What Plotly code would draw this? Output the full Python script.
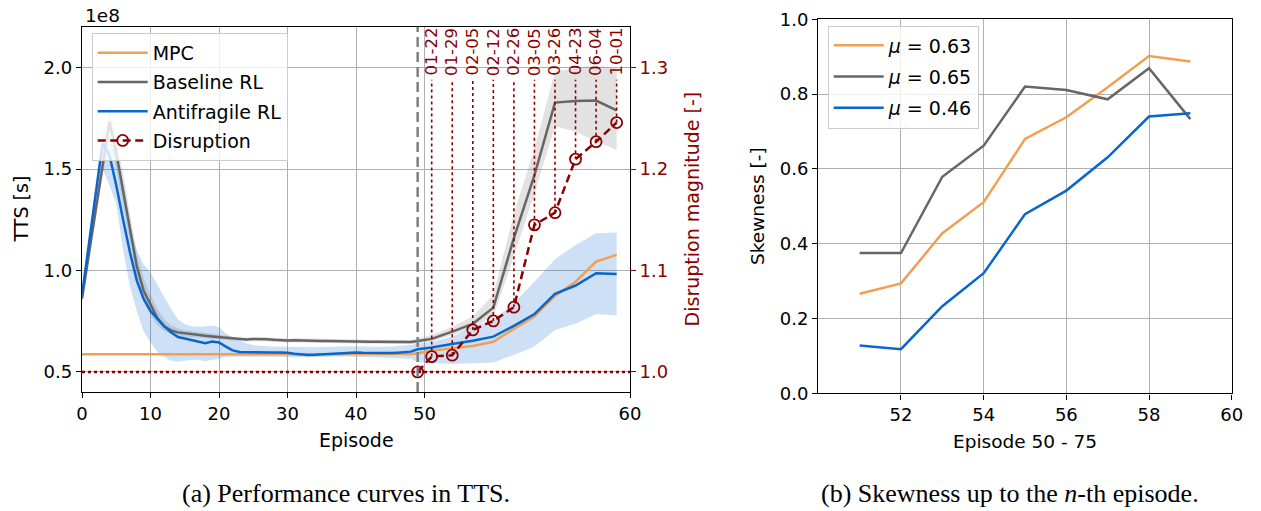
import plotly.graph_objects as go

# ---------------- data: left panel (TTS in units of 1e8 s) ----------------
episodes = [0, 1, 2, 3, 4, 5, 6, 7, 8, 9, 10, 11, 12, 13, 14, 15, 16, 17, 18, 19,
            20, 21, 22, 23, 24, 25, 26, 27, 28, 29, 30, 31, 32, 33, 34, 35, 36, 37, 38, 39,
            40, 41, 42, 43, 44, 45, 46, 47, 48, 49,
            50.35, 51.35, 52.35, 53.35, 54.35, 55.35, 56.35, 57.35, 58.35, 59.35]

mpc = [0.587, 0.587, 0.587, 0.587, 0.587, 0.587, 0.587, 0.587, 0.587, 0.587,
       0.587, 0.587, 0.587, 0.587, 0.587, 0.587, 0.587, 0.587, 0.587, 0.587,
       0.587, 0.587, 0.587, 0.587, 0.587, 0.587, 0.587, 0.587, 0.587, 0.587,
       0.587, 0.587, 0.587, 0.587, 0.587, 0.587, 0.587, 0.587, 0.587, 0.587,
       0.587, 0.587, 0.587, 0.587, 0.587, 0.587, 0.587, 0.587, 0.588, 0.592,
       0.604, 0.617, 0.628, 0.649, 0.712, 0.775, 0.875, 0.945, 1.044, 1.077]

baseline = [0.86, 1.08, 1.30, 1.51, 1.734, 1.58, 1.40, 1.20, 1.02, 0.90,
            0.83, 0.765, 0.725, 0.705, 0.695, 0.690, 0.686, 0.682, 0.678, 0.675,
            0.672, 0.668, 0.664, 0.660, 0.660, 0.662, 0.663, 0.661, 0.658, 0.655,
            0.655, 0.656, 0.656, 0.655, 0.654, 0.653, 0.652, 0.651, 0.650, 0.650,
            0.650, 0.650, 0.649, 0.649, 0.648, 0.648, 0.647, 0.647, 0.647, 0.652,
            0.663, 0.699, 0.737, 0.817, 1.16, 1.47, 1.828, 1.836, 1.838, 1.789]
baseline_lo = [0.85, 1.05, 1.26, 1.46, 1.66, 1.50, 1.32, 1.12, 0.96, 0.85,
               0.78, 0.73, 0.70, 0.685, 0.678, 0.675, 0.672, 0.668, 0.665, 0.662,
               0.660, 0.658, 0.654, 0.650, 0.650, 0.652, 0.653, 0.651, 0.648, 0.645,
               0.645, 0.646, 0.646, 0.645, 0.644, 0.643, 0.642, 0.641, 0.640, 0.640,
               0.640, 0.640, 0.639, 0.639, 0.638, 0.638, 0.637, 0.637, 0.637, 0.640,
               0.650, 0.682, 0.715, 0.773, 1.07, 1.38, 1.71, 1.685, 1.636, 1.595]
baseline_hi = [0.88, 1.11, 1.35, 1.57, 1.80, 1.65, 1.48, 1.28, 1.09, 0.96,
               0.88, 0.81, 0.76, 0.73, 0.715, 0.705, 0.700, 0.697, 0.692, 0.688,
               0.684, 0.678, 0.674, 0.670, 0.670, 0.672, 0.673, 0.671, 0.668, 0.665,
               0.665, 0.666, 0.666, 0.665, 0.664, 0.663, 0.662, 0.661, 0.660, 0.660,
               0.660, 0.660, 0.659, 0.659, 0.658, 0.658, 0.657, 0.657, 0.657, 0.665,
               0.682, 0.723, 0.773, 0.880, 1.28, 1.60, 1.98, 2.00, 2.01, 1.997]

antifragile = [0.88, 1.13, 1.38, 1.627, 1.57, 1.42, 1.25, 1.09, 0.95, 0.86,
               0.80, 0.76, 0.725, 0.695, 0.672, 0.665, 0.658, 0.650, 0.641, 0.650,
               0.645, 0.625, 0.606, 0.598, 0.597, 0.597, 0.597, 0.596, 0.596, 0.596,
               0.595, 0.590, 0.586, 0.584, 0.585, 0.587, 0.589, 0.592, 0.595, 0.596,
               0.596, 0.594, 0.593, 0.592, 0.592, 0.593, 0.595, 0.598, 0.600, 0.612,
               0.620, 0.638, 0.654, 0.674, 0.727, 0.785, 0.885, 0.926, 0.987, 0.983]
antifragile_lo = [0.86, 1.09, 1.31, 1.50, 1.42, 1.33, 1.10, 0.92, 0.80, 0.70,
                  0.645, 0.60, 0.575, 0.555, 0.550, 0.555, 0.560, 0.560, 0.552, 0.560,
                  0.565, 0.575, 0.575, 0.575, 0.578, 0.577, 0.576, 0.575, 0.575, 0.574,
                  0.573, 0.572, 0.572, 0.572, 0.573, 0.574, 0.575, 0.576, 0.576, 0.576,
                  0.575, 0.574, 0.573, 0.572, 0.571, 0.570, 0.569, 0.567, 0.565, 0.548,
                  0.545, 0.539, 0.543, 0.546, 0.584, 0.625, 0.707, 0.737, 0.785, 0.778]
antifragile_hi = [0.90, 1.16, 1.43, 1.68, 1.66, 1.56, 1.42, 1.22, 1.10, 1.03,
                  0.99, 0.93, 0.87, 0.81, 0.76, 0.735, 0.725, 0.723, 0.725, 0.728,
                  0.720, 0.690, 0.670, 0.655, 0.640, 0.632, 0.628, 0.626, 0.625, 0.624,
                  0.623, 0.622, 0.621, 0.621, 0.622, 0.623, 0.624, 0.625, 0.626, 0.626,
                  0.626, 0.625, 0.624, 0.624, 0.624, 0.625, 0.627, 0.630, 0.633, 0.640,
                  0.648, 0.674, 0.723, 0.756, 0.840, 0.945, 1.056, 1.126, 1.184, 1.187]

disruption_ep = [49, 50.35, 51.35, 52.35, 53.35, 54.35, 55.35, 56.35, 57.35, 58.35, 59.35]
disruption_mag = [1.0, 1.0151, 1.0165, 1.0414, 1.0503, 1.0638, 1.145, 1.157, 1.2098, 1.227, 1.2459]
disruption_dates = ["01-22", "01-29", "02-05", "02-12", "02-26",
                    "03-05", "03-26", "04-23", "06-04", "10-01"]
disruption_start = 49

x_ticks_a = [0, 10, 20, 30, 40, 50, 60]
y_ticks_a = [0.5, 1.0, 1.5, 2.0]
y2_ticks_a = [1.0, 1.1, 1.2, 1.3]

# ---------------- data: right panel (skewness) ----------------
skew_ep = [51, 52, 53, 54, 55, 56, 57, 58, 59]
skew_mpc = [0.266, 0.294, 0.428, 0.511, 0.680, 0.738, 0.818, 0.902, 0.887]
skew_base = [0.375, 0.375, 0.579, 0.662, 0.820, 0.811, 0.786, 0.869, 0.733]
skew_anti = [0.128, 0.118, 0.233, 0.321, 0.479, 0.542, 0.631, 0.740, 0.749]
skew_labels = ["<i>μ</i> = 0.63", "<i>μ</i> = 0.65", "<i>μ</i> = 0.46"]
x_ticks_b = [52, 54, 56, 58, 60]
y_ticks_b = [0.0, 0.2, 0.4, 0.6, 0.8, 1.0]

# ---------------- styling ----------------
C_MPC = "#F0A050"
C_BASE = "#666666"
C_ANTI = "#0A66CC"
C_DIS = "#8B0000"
FONT = "DejaVu Sans"
W, H = 1261, 511


def to_axis(x):
    # broken episode scale: episodes after 50 are stretched 3x
    return x if x <= 50 else 50 + 3.0 * (x - 50)


def px_x(p):
    return p / W


def px_y(p):
    return 1 - p / H


ux = [to_axis(e) for e in episodes]
fig = go.Figure()

# bands
fig.add_trace(go.Scatter(x=ux, y=baseline_lo, mode="lines", line=dict(width=0),
                         showlegend=False, hoverinfo="skip", xaxis="x", yaxis="y"))
fig.add_trace(go.Scatter(x=ux, y=baseline_hi, mode="lines", line=dict(width=0),
                         fill="tonexty", fillcolor="rgba(110,110,110,0.2)",
                         showlegend=False, hoverinfo="skip", xaxis="x", yaxis="y"))
fig.add_trace(go.Scatter(x=ux, y=antifragile_lo, mode="lines", line=dict(width=0),
                         showlegend=False, hoverinfo="skip", xaxis="x", yaxis="y"))
fig.add_trace(go.Scatter(x=ux, y=antifragile_hi, mode="lines", line=dict(width=0),
                         fill="tonexty", fillcolor="rgba(10,102,204,0.2)",
                         showlegend=False, hoverinfo="skip", xaxis="x", yaxis="y"))

# lines
fig.add_trace(go.Scatter(x=ux, y=mpc, mode="lines", name="MPC", legendgroup="a",
                         line=dict(color=C_MPC, width=2.5), xaxis="x", yaxis="y", legend="legend"))
fig.add_trace(go.Scatter(x=ux, y=baseline, mode="lines", name="Baseline RL", legendgroup="b",
                         line=dict(color=C_BASE, width=2.5), xaxis="x", yaxis="y", legend="legend"))
fig.add_trace(go.Scatter(x=ux, y=antifragile, mode="lines", name="Antifragile RL", legendgroup="c",
                         line=dict(color=C_ANTI, width=2.5), xaxis="x", yaxis="y", legend="legend"))

# vertical dotted lines from disruption markers to the date labels
vx, vy = [], []
for e, m in zip(disruption_ep[1:], disruption_mag[1:]):
    vx += [to_axis(e), to_axis(e), None]
    vy += [m, 1.288, None]
fig.add_trace(go.Scatter(x=vx, y=vy, mode="lines", line=dict(color=C_DIS, width=1.6, dash="dot"),
                         showlegend=False, hoverinfo="skip", xaxis="x", yaxis="y2"))

fig.add_trace(go.Scatter(x=[to_axis(e) for e in disruption_ep], y=disruption_mag,
                         mode="lines+markers", name="Disruption", legendgroup="d",
                         line=dict(color=C_DIS, width=2.5, dash="8px,4.5px"),
                         marker=dict(symbol="circle-open", size=11, color=C_DIS, line=dict(width=1.8)),
                         xaxis="x", yaxis="y2", legend="legend"))

# right panel
for vals, col, lab, grp in [(skew_mpc, C_MPC, skew_labels[0], "e"),
                            (skew_base, C_BASE, skew_labels[1], "f"),
                            (skew_anti, C_ANTI, skew_labels[2], "g")]:
    fig.add_trace(go.Scatter(x=skew_ep, y=vals, mode="lines", name=lab, legendgroup=grp,
                             line=dict(color=col, width=2.5), xaxis="x2", yaxis="y3", legend="legend2"))

axis_common = dict(showline=True, linecolor="black", linewidth=1.4, mirror=True,
                   ticks="outside", ticklen=5, tickwidth=1.3, tickcolor="black",
                   showgrid=True, gridcolor="#b0b0b0", gridwidth=1, zeroline=False,
                   automargin=False,
                   tickfont=dict(family=FONT, size=18, color="black"))

fig.update_layout(
    template="none",
    width=W, height=H, margin=dict(l=0, r=0, t=0, b=0, autoexpand=False),
    paper_bgcolor="white", plot_bgcolor="white",
    font=dict(family=FONT, size=18, color="black"),
    xaxis=dict(domain=[px_x(82), px_x(630)], range=[0, 80], anchor="y",
               tickvals=[to_axis(t) for t in x_ticks_a], ticktext=[str(t) for t in x_ticks_a],
               **axis_common),
    yaxis=dict(domain=[px_y(392), px_y(26.7)], range=[0.401, 2.202], anchor="x",
               tickvals=y_ticks_a, ticktext=["%.1f" % t for t in y_ticks_a], **axis_common),
    yaxis2=dict(overlaying="y", side="right", anchor="x", range=[0.9802, 1.3404],
                tickvals=y2_ticks_a, ticktext=["%.1f" % t for t in y2_ticks_a],
                showgrid=False, zeroline=False, showline=False, automargin=False,
                ticks="outside", ticklen=5, tickwidth=1.3, tickcolor=C_DIS,
                tickfont=dict(family=FONT, size=18, color=C_DIS)),
    xaxis2=dict(domain=[px_x(818.3), px_x(1231.7)], range=[50, 60], anchor="y3",
                tickvals=x_ticks_b, ticktext=[str(t) for t in x_ticks_b], **axis_common),
    yaxis3=dict(domain=[px_y(393.3), px_y(19.3)], range=[0, 1], anchor="x2",
                tickvals=y_ticks_b, ticktext=["%.1f" % t for t in y_ticks_b], **axis_common),
    legend=dict(x=px_x(91.7), y=px_y(33), xanchor="left", yanchor="top",
                bgcolor="rgba(255,255,255,0.8)", bordercolor="#cccccc", borderwidth=1,
                font=dict(family=FONT, size=19, color="black"),
                traceorder="grouped", tracegroupgap=1.5, itemwidth=50),
    legend2=dict(x=px_x(827.7), y=px_y(25.5), xanchor="left", yanchor="top",
                 bgcolor="rgba(255,255,255,0.8)", bordercolor="#cccccc", borderwidth=1,
                 font=dict(family=FONT, size=19, color="black"),
                 traceorder="grouped", tracegroupgap=3.5, itemwidth=50),
)

# reference lines
fig.add_shape(type="line", xref="x domain", yref="y2", x0=0, x1=1,
              y0=disruption_mag[0], y1=disruption_mag[0],
              line=dict(color=C_DIS, width=2.5, dash="dot"))
fig.add_shape(type="line", xref="x", yref="y domain", x0=to_axis(disruption_start), x1=to_axis(disruption_start),
              y0=0, y1=1, line=dict(color="#808080", width=2.5, dash="10px,5px"))

ann = []
for e, d in zip(disruption_ep[1:], disruption_dates):
    ann.append(dict(x=to_axis(e), y=1.29, xref="x", yref="y2", text=d, showarrow=False,
                    textangle=-90, xanchor="center", yanchor="bottom",
                    font=dict(family=FONT, size=16.5, color=C_DIS)))
ann += [
    dict(x=px_x(83), y=px_y(15), xref="paper", yref="paper", text="1e8", showarrow=False,
         xanchor="left", yanchor="middle", font=dict(family=FONT, size=18.5)),
    dict(x=px_x(21), y=px_y(209.4), xref="paper", yref="paper", text="TTS [s]", showarrow=False,
         textangle=-90, xanchor="center", yanchor="middle", font=dict(family=FONT, size=19)),
    dict(x=px_x(356), y=px_y(440), xref="paper", yref="paper", text="Episode", showarrow=False,
         xanchor="center", yanchor="middle", font=dict(family=FONT, size=19)),
    dict(x=px_x(692), y=px_y(209.4), xref="paper", yref="paper", text="Disruption magnitude [-]",
         showarrow=False, textangle=-90, xanchor="center", yanchor="middle",
         font=dict(family=FONT, size=19, color=C_DIS)),
    dict(x=px_x(757), y=px_y(206), xref="paper", yref="paper", text="Skewness [-]", showarrow=False,
         textangle=-90, xanchor="center", yanchor="middle", font=dict(family=FONT, size=18.5)),
    dict(x=px_x(1025), y=px_y(441), xref="paper", yref="paper", text="Episode 50 - 75", showarrow=False,
         xanchor="center", yanchor="middle", font=dict(family=FONT, size=18.5)),
    dict(x=px_x(346), y=px_y(493), xref="paper", yref="paper", text="(a) Performance curves in TTS.",
         showarrow=False, xanchor="center", yanchor="middle",
         font=dict(family="Liberation Serif", size=26)),
    dict(x=px_x(1010), y=px_y(493), xref="paper", yref="paper",
         text="(b) Skewness up to the <i>n</i>-th episode.",
         showarrow=False, xanchor="center", yanchor="middle",
         font=dict(family="Liberation Serif", size=26)),
]
fig.update_layout(annotations=ann)

fig.write_html("out.html")
